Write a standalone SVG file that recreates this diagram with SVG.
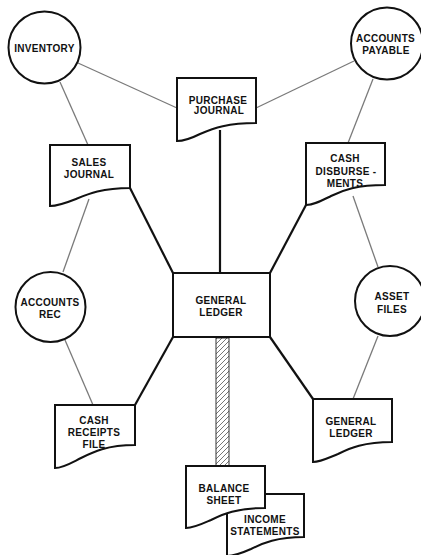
<svg xmlns="http://www.w3.org/2000/svg" width="421" height="555" viewBox="0 0 421 555">
<style>
.thin{stroke:#7a7a7a;stroke-width:1.3;fill:none}
.thick{stroke:#111;stroke-width:2.2;fill:none}
.node{stroke:#111;stroke-width:2;fill:#fff}
text{font-family:"Liberation Sans",Arial,sans-serif;font-weight:bold;font-size:10px;letter-spacing:0.3px;fill:#111;text-anchor:middle}
</style>
<defs>
<pattern id="hatch" patternUnits="userSpaceOnUse" width="5" height="5">
<rect width="5" height="5" fill="#fff"/>
<path d="M-1,6 L6,-1 M-1,1 L1,-1 M4,6 L6,4" stroke="#666" stroke-width="0.9"/>
</pattern>
</defs>
<rect width="421" height="555" fill="#fff"/>
<g id="connectors">
<line class="thin" x1="78" y1="63" x2="177" y2="108"/>
<line class="thin" x1="60" y1="82" x2="88" y2="145"/>
<line class="thin" x1="354" y1="61" x2="256" y2="108"/>
<line class="thin" x1="373" y1="79" x2="348" y2="143"/>
<line class="thin" x1="89" y1="199" x2="63" y2="272"/>
<line class="thin" x1="353" y1="196" x2="378" y2="267"/>
<line class="thin" x1="65" y1="340" x2="93" y2="405"/>
<line class="thin" x1="378" y1="336" x2="353" y2="399"/>
<line class="thick" x1="220" y1="130" x2="220" y2="273"/>
<line class="thick" x1="130" y1="188" x2="173" y2="273"/>
<line class="thick" x1="306" y1="205" x2="270" y2="273"/>
<line class="thick" x1="173" y1="337" x2="135" y2="405"/>
<line class="thick" x1="270" y1="337" x2="313" y2="399"/>
<rect x="216" y="338" width="13" height="128" fill="url(#hatch)" stroke="#333" stroke-width="1"/>
</g>
<g id="inventory">
<circle class="node" cx="44.5" cy="47.5" r="36"/>
<text x="44.5" y="52">INVENTORY</text>
</g>
<g id="accounts-payable">
<circle class="node" cx="387" cy="43.5" r="36"/>
<text x="385.5" y="42">ACCOUNTS</text>
<text x="386" y="54">PAYABLE</text>
</g>
<g id="purchase-journal">
<path class="node" d="M177,78 H256 V123 C228,123 214,128 200,134 C190,139 183,141 177,141 Z"/>
<text x="218" y="104">PURCHASE</text>
<text x="219" y="114">JOURNAL</text>
</g>
<g id="sales-journal">
<path class="node" d="M50,145 H130 V188 C102,188 88,194 76,199 C66,203 58,206 50,206 Z"/>
<text x="89" y="166">SALES</text>
<text x="89" y="178">JOURNAL</text>
</g>
<g id="cash-disbursements">
<path class="node" d="M306,143 H385 V185 C357,185 343,190 331,196 C321,201 314,205 306,205 Z"/>
<text x="345" y="162">CASH</text>
<text x="346" y="175">DISBURSE -</text>
<text x="345" y="187">MENTS</text>
</g>
<g id="general-ledger">
<rect class="node" x="173" y="273" width="97" height="64"/>
<text x="221" y="304">GENERAL</text>
<text x="221" y="316">LEDGER</text>
</g>
<g id="accounts-rec">
<circle class="node" cx="50.5" cy="307" r="35"/>
<text x="50" y="306">ACCOUNTS</text>
<text x="50" y="318">REC</text>
</g>
<g id="asset-files">
<circle class="node" cx="390" cy="301" r="35"/>
<text x="392" y="300">ASSET</text>
<text x="392" y="313">FILES</text>
</g>
<g id="cash-receipts-file">
<path class="node" d="M55,405 H135 V445 C107,445 93,452 81,458 C71,463 63,468 55,468 Z"/>
<text x="94" y="424">CASH</text>
<text x="94" y="436">RECEIPTS</text>
<text x="94" y="448">FILE</text>
</g>
<g id="general-ledger-2">
<path class="node" d="M313,399 H392 V442 C364,442 350,448 338,454 C328,458 320,462 313,462 Z"/>
<text x="351" y="425">GENERAL</text>
<text x="351" y="437">LEDGER</text>
</g>
<g id="income-statements">
<path class="node" d="M227,494 H304 V537 C277,537 263,543 251,549 C242,553 234,556 227,556 Z"/>
<text x="265" y="523">INCOME</text>
<text x="265" y="535">STATEMENTS</text>
</g>
<g id="balance-sheet">
<path class="node" d="M186,466 H265 V508 C237,508 223,514 211,520 C202,524 194,528 186,528 Z"/>
<text x="224" y="492">BALANCE</text>
<text x="224" y="504">SHEET</text>
</g>
</svg>
